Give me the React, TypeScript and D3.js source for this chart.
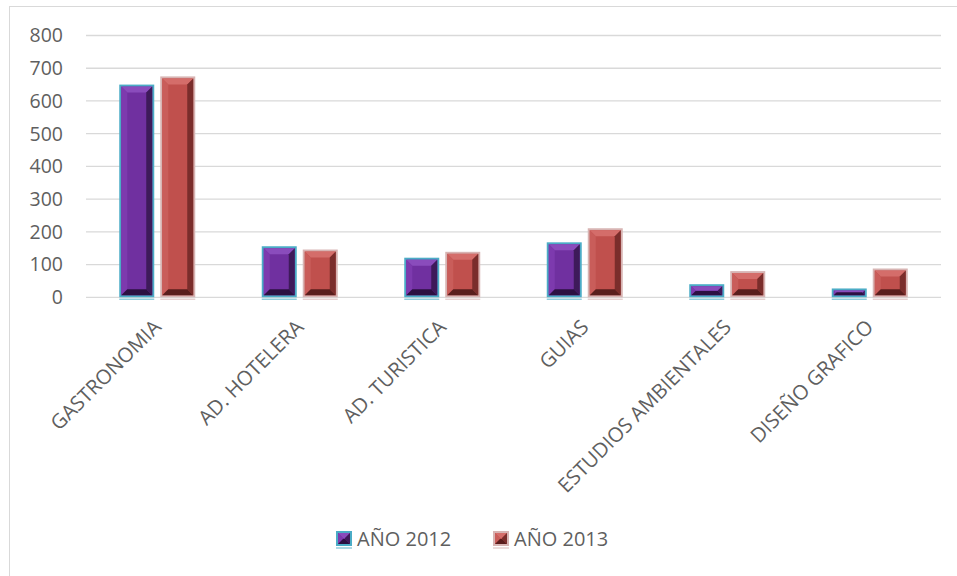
import React from "react";
import * as d3 from "d3";

const categories = ["GASTRONOMIA", "AD. HOTELERA", "AD. TURISTICA", "GUIAS", "ESTUDIOS AMBIENTALES", "DISEÑO GRAFICO"];
const values2012 = [650, 156, 121, 168, 40, 27];
const values2013 = [675, 146, 139, 211, 80, 88];
const seriesNames = ["AÑO 2012", "AÑO 2013"];
const yTicks = [0, 100, 200, 300, 400, 500, 600, 700, 800];

const W = 957;
const H = 576;
const FONT = "'Open Sans', 'Liberation Sans', sans-serif";
const TEXT = "#5f5f5f";

const styles = [
  { stroke: "#4BACC6", face: "#7030A0", top: "#8a4cbc", left: "#7d3aae", right: "#3e1a5a", bottom: "#2c1042" },
  { stroke: "#d7b4b3", face: "#C0504D", top: "#d46d6a", left: "#c95d5a", right: "#7a2d2b", bottom: "#5a1e1d" },
];

function BevelBar({ x, y, w, h, s }: { x: number; y: number; w: number; h: number; s: typeof styles[0] }) {
  const b = Math.max(1, Math.min(6, h / 3, w / 3));
  const ix = x + 2, iy = y + 2, iw = w - 4, ih = h - 4;
  const pts = (arr: number[][]) => arr.map((p) => p.join(",")).join(" ");
  return (
    <g>
      <line x1={x} x2={x + w} y1={y + h + 2} y2={y + h + 2} stroke={s.stroke} strokeWidth={1.5} opacity={0.6} />
      <rect x={x} y={y} width={w} height={h} fill={s.stroke} />
      <rect x={ix} y={iy} width={iw} height={Math.max(0, ih)} fill={s.face} />
      <polygon points={pts([[ix, iy], [ix + iw, iy], [ix + iw - b, iy + b], [ix + b, iy + b]])} fill={s.top} />
      <polygon points={pts([[ix, iy], [ix + b, iy + b], [ix + b, iy + ih - b], [ix, iy + ih]])} fill={s.left} />
      <polygon points={pts([[ix + iw, iy], [ix + iw, iy + ih], [ix + iw - b, iy + ih - b], [ix + iw - b, iy + b]])} fill={s.right} />
      <polygon points={pts([[ix, iy + ih], [ix + iw, iy + ih], [ix + iw - b, iy + ih - b], [ix + b, iy + ih - b]])} fill={s.bottom} />
    </g>
  );
}

export default function App() {
  const x0 = d3.scaleBand<string>().domain(categories).range([86, 941]);
  const y = d3.scaleLinear().domain([0, 800]).range([297.3, 35.5]);
  const barW = 35;
  const gap = 6;
  const series = [values2012, values2013];

  return (
    <svg width={W} height={H} style={{ position: "absolute", left: 0, top: 0 }} fontFamily={FONT}>
      <rect x={9.5} y={6.5} width={950} height={572} fill="#fff" stroke="#d9d9d9" strokeWidth={1} />
      {yTicks.map((t) => (
        <g key={t}>
          <line x1={86} x2={941} y1={y(t)} y2={y(t)} stroke="#d9d9d9" strokeWidth={1.3} />
          <text x={63} y={y(t)} dy="0.35em" textAnchor="end" fontSize={19.5} fill={TEXT}>
            {t}
          </text>
        </g>
      ))}
      {categories.map((c, i) => {
        const cx = (x0(c) as number) + x0.bandwidth() / 2;
        return (
          <g key={c}>
            {series.map((vals, si) => {
              const bx = si === 0 ? cx - gap / 2 - barW : cx + gap / 2;
              const top = y(vals[i]);
              return <BevelBar key={si} x={bx} y={top} w={barW} h={y(0) - top} s={styles[si]} />;
            })}
            <text
              transform={`translate(${cx + 5},${y(0) + 31}) rotate(-45)`}
              textAnchor="end"
              fontSize={20.3}
              fill={TEXT}
            >
              {c}
            </text>
          </g>
        );
      })}
      {seriesNames.map((n, si) => {
        const lx = si === 0 ? 336 : 493;
        return (
          <g key={n}>
            <BevelBar x={lx} y={531} w={16} h={15} s={styles[si]} />
            <text x={lx + 21} y={545.5} fontSize={20} fill={TEXT}>
              {n}
            </text>
          </g>
        );
      })}
    </svg>
  );
}
